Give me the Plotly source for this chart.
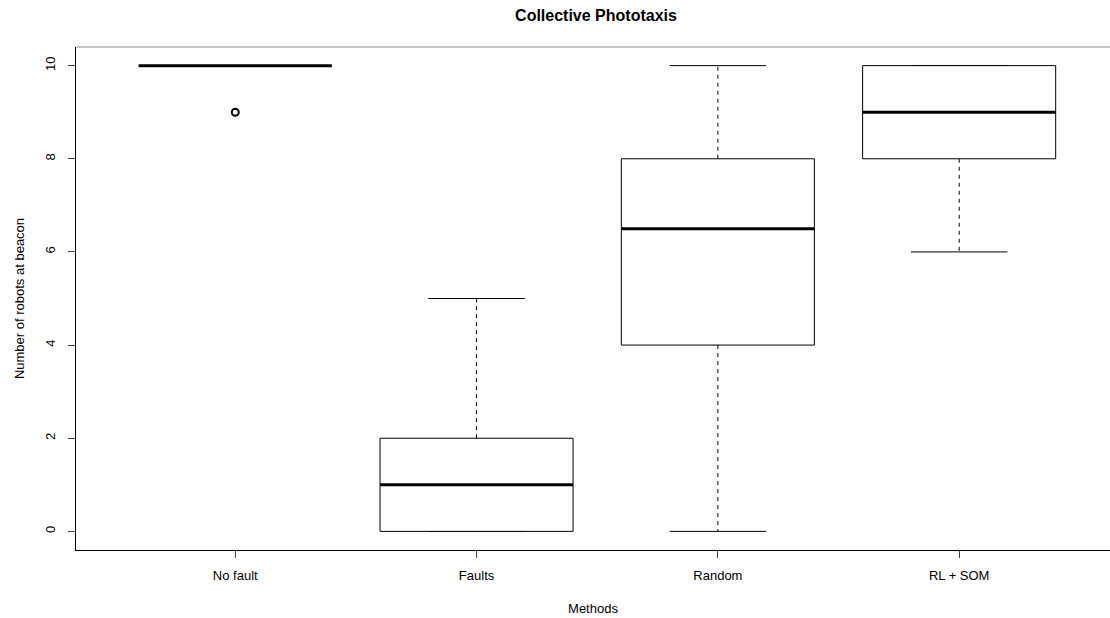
import plotly.graph_objects as go

# Summary statistics per method (five-number summary + outliers)
methods = ["No fault", "Faults", "Random", "RL + SOM"]
lower_whisker = [10, 0, 0, 6]
q1 = [10, 0, 4, 8]
median = [10, 1, 6.5, 9]
q3 = [10, 2, 8, 10]
upper_whisker = [10, 5, 10, 10]
outliers = [[9], [], [], []]

y_ticks = [0, 2, 4, 6, 8, 10]

BOX_HALF = 0.4
CAP_HALF = 0.2
FONT = "Liberation Sans, Arial, Helvetica, sans-serif"

fig = go.Figure()

for i, name in enumerate(methods):
    pos = i + 1
    # dashed whiskers
    fig.add_trace(go.Scatter(
        x=[pos, pos, None, pos, pos],
        y=[q3[i], upper_whisker[i], None, q1[i], lower_whisker[i]],
        mode="lines", line=dict(color="black", width=1, dash="4px,4px"),
        hoverinfo="skip", showlegend=False))
    # whisker caps
    fig.add_trace(go.Scatter(
        x=[pos - CAP_HALF, pos + CAP_HALF, None, pos - CAP_HALF, pos + CAP_HALF],
        y=[upper_whisker[i], upper_whisker[i], None, lower_whisker[i], lower_whisker[i]],
        mode="lines", line=dict(color="black", width=1),
        hoverinfo="skip", showlegend=False))
    # box body
    fig.add_trace(go.Scatter(
        x=[pos - BOX_HALF, pos + BOX_HALF, pos + BOX_HALF, pos - BOX_HALF, pos - BOX_HALF],
        y=[q1[i], q1[i], q3[i], q3[i], q1[i]],
        mode="lines", fill="toself", fillcolor="white",
        line=dict(color="black", width=1),
        hoverinfo="skip", showlegend=False))
    # median
    fig.add_trace(go.Scatter(
        x=[pos - BOX_HALF, pos + BOX_HALF],
        y=[median[i], median[i]],
        mode="lines", line=dict(color="black", width=3),
        hoverinfo="skip", showlegend=False))
    # outliers
    if outliers[i]:
        fig.add_trace(go.Scatter(
            x=[pos] * len(outliers[i]), y=outliers[i],
            mode="markers",
            marker=dict(symbol="circle-open", size=7, color="black",
                        line=dict(width=2, color="black")),
            hoverinfo="skip", showlegend=False))

# top edge of the plot frame
fig.add_shape(type="line", xref="paper", yref="paper",
              x0=0, x1=1, y0=1, y1=1, line=dict(color="#888888", width=1))

fig.update_layout(
    width=1110, height=618,
    margin=dict(l=76, r=0, t=47, b=68),
    paper_bgcolor="white", plot_bgcolor="white",
    font=dict(family=FONT, size=13, color="black"),
    title=dict(text="<b>Collective Phototaxis</b>", x=596 / 1110, xref="container",
               xanchor="center",
               y=1 - 15 / 618, yanchor="middle",
               font=dict(size=16, family=FONT, color="black")),
    xaxis=dict(
        range=[0.34, 0.34 + 1034 / 241.3],
        tickmode="array", tickvals=[1, 2, 3, 4], ticktext=methods,
        ticks="outside", ticklen=7, tickwidth=1, tickcolor="#444",
        ticklabelstandoff=6,
        showline=True, linecolor="black", linewidth=1, mirror=False,
        showgrid=False, zeroline=False,
        tickfont=dict(size=13),
        title=dict(text="Methods", standoff=22, font=dict(size=13)),
    ),
    yaxis=dict(
        range=[-0.4, 10.4],
        tickmode="array", tickvals=y_ticks, ticktext=[str(v) for v in y_ticks],
        tickangle=-90, ticklabelstandoff=8,
        ticks="outside", ticklen=7, tickwidth=1, tickcolor="#444",
        showline=True, linecolor="black", linewidth=1, mirror=False,
        showgrid=False, zeroline=False,
        tickfont=dict(size=13),
        title=dict(text="Number of robots at beacon", standoff=15, font=dict(size=13)),
    ),
)

fig.write_html("out.html")
